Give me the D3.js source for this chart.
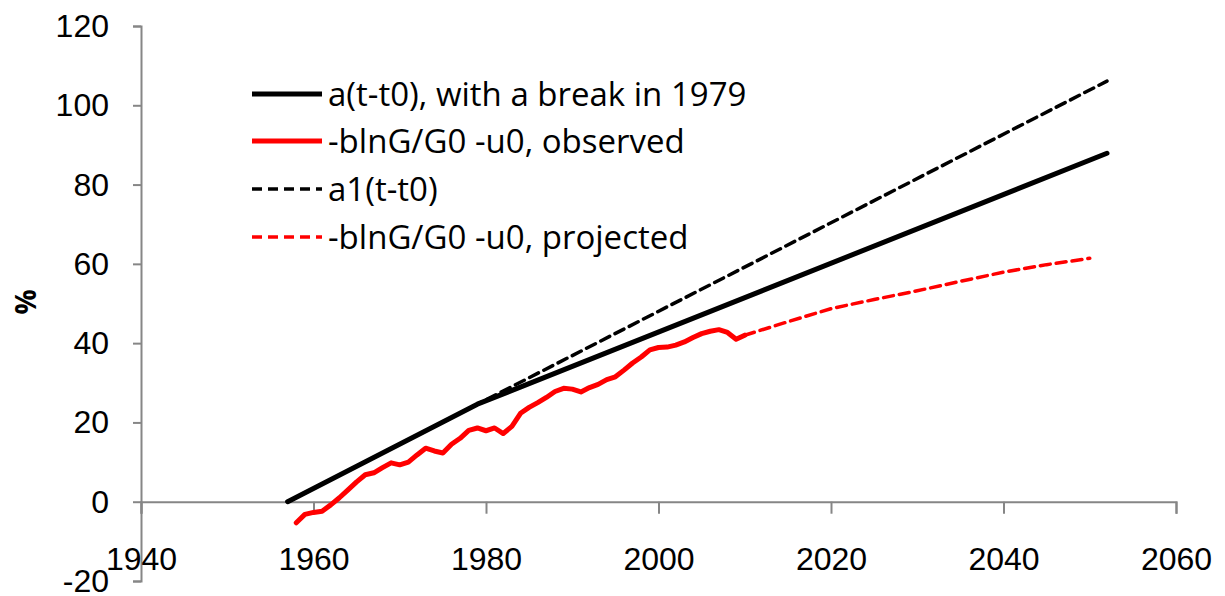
<!DOCTYPE html>
<html><head><meta charset="utf-8">
<script src="https://cdn.jsdelivr.net/npm/d3@7"></script>
<style>
html,body{margin:0;padding:0;background:#fff;}
svg{display:block;font-family:"Open Sans",sans-serif;}
</style></head>
<body><svg id="c" width="1225" height="596"></svg>
<script>
// ---- data ----
const xTicks = [1940, 1960, 1980, 2000, 2020, 2040, 2060];
const yTicks = [-20, 0, 20, 40, 60, 80, 100, 120];
const legendLabels = ["a(t-t0), with a break in 1979", "-blnG/G0 -u0, observed", "a1(t-t0)", "-blnG/G0 -u0, projected"];
const trendYears = [1957, 1979, 2052];
const trendValues = [0, 24.6, 87.9];
const a1Years = [1957, 2052];
const a1Values = [0, 106.1];
const obsYears = [1958,1959,1960,1961,1962,1963,1964,1965,1966,1967,1968,1969,1970,1971,1972,1973,1974,1975,1976,1977,1978,1979,1980,1981,1982,1983,1984,1985,1986,1987,1988,1989,1990,1991,1992,1993,1994,1995,1996,1997,1998,1999,2000,2001,2002,2003,2004,2005,2006,2007,2008,2009,2010];
const obsValues = [-5.3,-3.2,-2.7,-2.4,-0.8,1.0,3.0,5.0,6.8,7.3,8.6,9.8,9.3,10.0,11.8,13.5,12.8,12.3,14.5,16.0,18.0,18.6,17.9,18.6,17.2,19.0,22.3,23.8,25.0,26.3,27.8,28.6,28.4,27.7,28.8,29.6,30.8,31.5,33.2,35.0,36.5,38.3,38.9,39.0,39.5,40.3,41.4,42.4,43.0,43.4,42.7,41.0,42.0];
const projYears = [2010,2015,2020,2025,2030,2035,2040,2045,2050];
const projValues = [42.0,45.4,48.7,51.0,53.2,55.6,57.9,59.8,61.4];

// ---- layout ----
const svg = d3.select("#c");
const x = d3.scaleLinear().domain([1940, 2060]).range([141, 1176]);
const y = d3.scaleLinear().domain([-20, 120]).range([581, 26]);
const axisColor = "#868686";

// y axis
const yAxis = d3.axisLeft(y).tickValues(yTicks).tickSize(8).tickPadding(24).tickFormat(d => String(d));
const gy = svg.append("g").attr("transform", `translate(${x(1940)},0)`).call(yAxis);
gy.select(".domain").attr("stroke", axisColor).attr("stroke-width", 2);
gy.selectAll(".tick line").attr("stroke", axisColor).attr("stroke-width", 2);
gy.selectAll(".tick text").attr("fill", "#000").style("font-size", "32px").attr("dy", "0.33em");

// x axis at y=0
const xAxis = d3.axisBottom(x).tickValues(xTicks).tickSize(12).tickPadding(34).tickFormat(d => String(d));
const gx = svg.append("g").attr("transform", `translate(0,${y(0)})`).call(xAxis);
gx.select(".domain").attr("stroke", axisColor).attr("stroke-width", 2);
gx.selectAll(".tick line").attr("stroke", axisColor).attr("stroke-width", 2);
gx.selectAll(".tick text").attr("fill", "#000").style("font-size", "32px");

// y label
svg.append("text").attr("transform", `translate(36,302) rotate(-90)`)
  .attr("text-anchor", "middle").style("font-size", "28px").style("font-weight", "bold").text("%");

const line = d3.line().x(d => x(d[0])).y(d => y(d[1]));
const zip = (a, b) => a.map((v, i) => [v, b[i]]);

const series = [
  {years: a1Years, values: a1Values, color: "#000", width: 3.5, dash: "10,6"},
  {years: projYears, values: projValues, color: "#ff0000", width: 3.5, dash: "10,6"},
  {years: trendYears, values: trendValues, color: "#000", width: 5, dash: null},
  {years: obsYears, values: obsValues, color: "#ff0000", width: 5, dash: null}
];
series.forEach(s => {
  svg.append("path").datum(zip(s.years, s.values)).attr("d", line)
    .attr("fill", "none").attr("stroke", s.color).attr("stroke-width", s.width)
    .attr("stroke-linecap", "round").attr("stroke-linejoin", "round")
    .attr("stroke-dasharray", s.dash);
});

// legend
const legStyles = [
  {color: "#000", width: 5, dash: null},
  {color: "#ff0000", width: 5, dash: null},
  {color: "#000", width: 3.5, dash: "10,6"},
  {color: "#ff0000", width: 3.5, dash: "10,6"}
];
const legY = [94, 141, 189, 237];
legendLabels.forEach((lab, i) => {
  const g = svg.append("g");
  g.append("line").attr("x1", 252).attr("x2", 322).attr("y1", legY[i]).attr("y2", legY[i])
    .attr("stroke", legStyles[i].color).attr("stroke-width", legStyles[i].width)
    .attr("stroke-dasharray", legStyles[i].dash);
  g.append("text").attr("x", 328).attr("y", legY[i]).attr("dy", "0.35em")
    .style("font-size", "33px").text(lab);
});
</script></body></html>
